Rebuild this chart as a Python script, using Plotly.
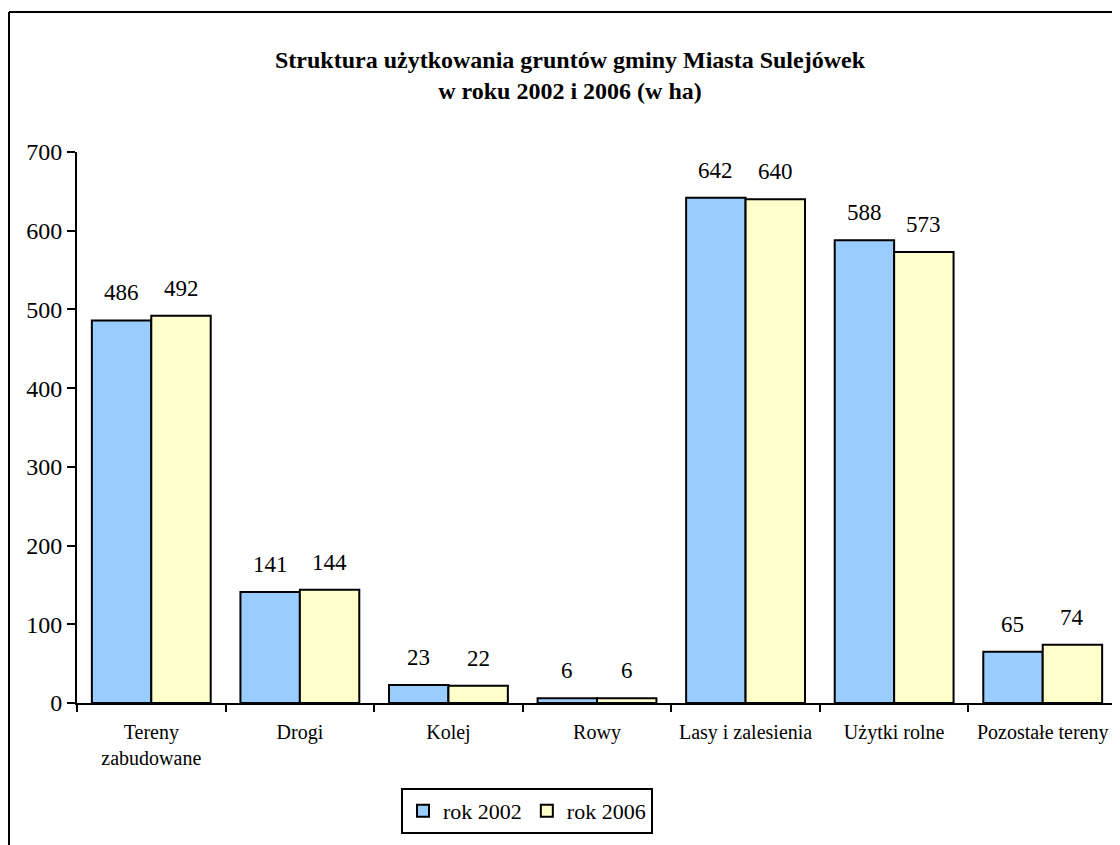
import plotly.graph_objects as go

categories = ["Tereny<br>zabudowane", "Drogi", "Kolej", "Rowy", "Lasy i zalesienia", "Użytki rolne", "Pozostałe tereny"]
rok_2002 = [486, 141, 23, 6, 642, 588, 65]
rok_2006 = [492, 144, 22, 6, 640, 573, 74]

FONT = "Liberation Serif, Times New Roman, serif"
OFF = 8  # page body margin

W, H = 1120 - OFF, 845 - OFF
L, T = 77 - OFF, 152 - OFF
R = W - (1117 - OFF)
B = H - (703 - OFF)
pw, ph = W - L - R, H - T - B


def px(x):
    return (x - OFF - L) / pw


def py(y):
    return (H - B - (y - OFF)) / ph


fig = go.Figure()
fig.add_trace(go.Bar(
    x=categories, y=rok_2002, name="rok 2002",
    marker=dict(color="#99CCFF", line=dict(color="black", width=2)),
))
fig.add_trace(go.Bar(
    x=categories, y=rok_2006, name="rok 2006",
    marker=dict(color="#FFFFCC", line=dict(color="black", width=2)),
))

slot = pw / len(categories)
half = slot * 0.8 / 4
annotations = []
for series, shift in ((rok_2002, -half), (rok_2006, half)):
    for c, v in zip(categories, series):
        annotations.append(dict(
            x=c, y=v, xref="x", yref="y", text=str(v), showarrow=False,
            xshift=shift, yshift=13, yanchor="bottom",
            font=dict(family=FONT, size=23, color="black"),
        ))

fig.update_layout(
    width=W, height=H,
    margin=dict(l=L, r=R, t=T, b=B),
    paper_bgcolor="white", plot_bgcolor="white",
    font=dict(family=FONT, color="black"),
    barmode="group", bargap=0.2, bargroupgap=0,
    title=dict(
        text="<b>Struktura użytkowania gruntów gminy Miasta Sulejówek<br>w roku 2002 i 2006 (w ha)</b>",
        x=(570 - OFF) / W, xanchor="center", y=1 - (68 - OFF) / H, yanchor="top",
        font=dict(family=FONT, size=24, color="black"),
    ),
    xaxis=dict(
        showline=True, linecolor="black", linewidth=2,
        ticks="outside", tickson="boundaries", ticklen=7, tickwidth=2, tickcolor="black",
        tickfont=dict(family=FONT, size=20, color="black"),
        ticklabelstandoff=10,
        showgrid=False,
    ),
    yaxis=dict(
        range=[0, 700], dtick=100,
        showline=True, linecolor="black", linewidth=2,
        ticks="outside", ticklen=8, tickwidth=2, tickcolor="black",
        tickfont=dict(family=FONT, size=24, color="black"),
        showgrid=False, zeroline=False,
    ),
    legend=dict(
        orientation="h", x=px(527), xanchor="center", y=py(788), yanchor="top",
        bordercolor="black", borderwidth=2, bgcolor="white",
        font=dict(family=FONT, size=22, color="black"),
        itemwidth=30, traceorder="normal",
    ),
    showlegend=True,
    annotations=annotations,
    shapes=[
        dict(type="line", xref="paper", yref="paper",
             x0=px(OFF + 1), x1=px(1140), y0=py(12), y1=py(12),
             line=dict(color="black", width=2)),
        dict(type="line", xref="paper", yref="paper",
             x0=px(OFF + 1), x1=px(OFF + 1), y0=py(12), y1=py(870),
             line=dict(color="black", width=2)),
    ],
)

fig.write_html("out.html")
